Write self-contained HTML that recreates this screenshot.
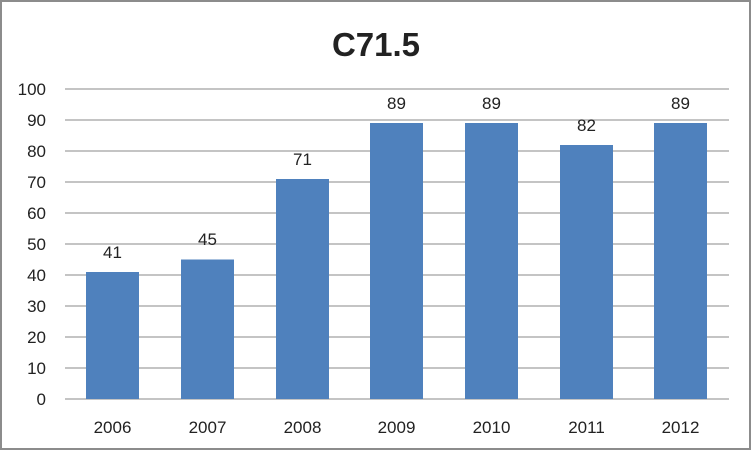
<!DOCTYPE html>
<html><head><meta charset="utf-8"><style>
body{margin:0;background:#fff}
svg{display:block}
text{font-family:"Liberation Sans",sans-serif;fill:#222}
</style></head><body>
<svg width="752" height="452" viewBox="0 0 752 452">
<rect x="1" y="1" width="749" height="448" fill="#fff" stroke="#8c8c8c" stroke-width="2"/>
<text x="376" y="56" font-size="33" font-weight="bold" text-anchor="middle" fill="#000">C71.5</text>
<g stroke="#b0b0b0" stroke-width="1.5">
<line x1="65" x2="729" y1="89" y2="89"/><line x1="65" x2="729" y1="120" y2="120"/>
<line x1="65" x2="729" y1="151" y2="151"/><line x1="65" x2="729" y1="182" y2="182"/>
<line x1="65" x2="729" y1="213" y2="213"/><line x1="65" x2="729" y1="244" y2="244"/>
<line x1="65" x2="729" y1="275" y2="275"/><line x1="65" x2="729" y1="306" y2="306"/>
<line x1="65" x2="729" y1="337" y2="337"/><line x1="65" x2="729" y1="368" y2="368"/>
<line x1="65" x2="729" y1="399" y2="399"/>
</g>
<g font-size="17" text-anchor="end">
<text x="46" y="95">100</text><text x="46" y="126">90</text><text x="46" y="157">80</text>
<text x="46" y="188">70</text><text x="46" y="219">60</text><text x="46" y="250">50</text>
<text x="46" y="281">40</text><text x="46" y="312">30</text><text x="46" y="343">20</text>
<text x="46" y="374">10</text><text x="46" y="405">0</text>
</g>
<g fill="#4f81bd">
<rect x="86" y="272" width="53" height="127"/>
<rect x="181" y="259.5" width="53" height="139.5"/>
<rect x="276" y="179" width="53" height="220"/>
<rect x="370" y="123" width="53" height="276"/>
<rect x="465" y="123" width="53" height="276"/>
<rect x="560" y="145" width="53" height="254"/>
<rect x="654" y="123" width="53" height="276"/>
</g>
<g font-size="17" text-anchor="middle">
<text x="112.5" y="258">41</text><text x="207.5" y="245">45</text><text x="302.5" y="165">71</text>
<text x="396.5" y="109">89</text><text x="491.5" y="109">89</text><text x="586.5" y="131">82</text>
<text x="680.5" y="109">89</text>
<text x="112.5" y="433">2006</text><text x="207.5" y="433">2007</text><text x="302.5" y="433">2008</text>
<text x="396.5" y="433">2009</text><text x="491.5" y="433">2010</text><text x="586.5" y="433">2011</text>
<text x="680.5" y="433">2012</text>
</g>
</svg>
</body></html>
